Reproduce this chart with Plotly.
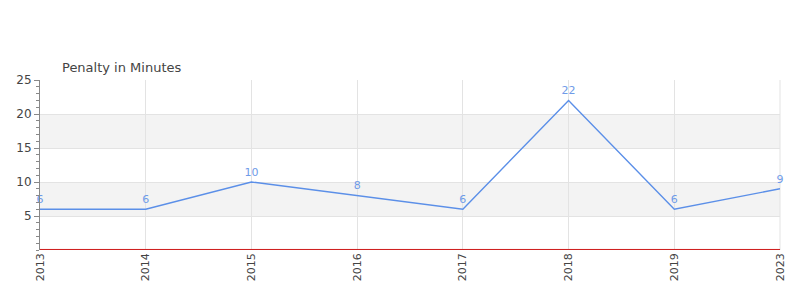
import plotly.graph_objects as go

years = ["2013", "2014", "2015", "2016", "2017", "2018", "2019", "2023"]
penalty = [6, 6, 10, 8, 6, 22, 6, 9]
y_ticks = [5, 10, 15, 20, 25]
bands = [(5, 10), (15, 20)]

fig = go.Figure()
fig.add_trace(go.Scatter(
    x=years, y=penalty, mode="lines+markers+text",
    text=[str(v) for v in penalty], textposition="top center",
    textfont=dict(family="DejaVu Sans", size=11, color="#6f9be8"),
    line=dict(color="#5b8fe8", width=1.4),
    marker=dict(size=4, color="rgba(0,0,0,0)"),
    cliponaxis=False, hoverinfo="x+y",
))

for lo, hi in bands:
    fig.add_shape(type="rect", xref="paper", yref="y", x0=0, x1=1, y0=lo, y1=hi,
                  fillcolor="#f3f3f3", line_width=0, layer="below")

fig.add_shape(type="line", xref="paper", yref="y", x0=0, x1=1, y0=0, y1=0,
              line=dict(color="#555555", width=2), layer="above")
fig.add_shape(type="line", xref="paper", yref="y", x0=0, x1=1, y0=0.08, y1=0.08,
              line=dict(color="#d62020", width=1), layer="above")

fig.update_layout(
    width=800, height=300,
    margin=dict(l=40, r=20, t=80, b=50),
    paper_bgcolor="white", plot_bgcolor="white",
    font=dict(family="DejaVu Sans", size=11, color="#444444"),
    showlegend=False,
    annotations=[dict(text="Penalty in Minutes", xref="paper", yref="paper",
                      x=0.027, y=1.0, yshift=3, xanchor="left", yanchor="bottom",
                      showarrow=False, font=dict(size=13, color="#444444"))],
)
fig.update_xaxes(
    type="category", range=[0, len(years) - 1],
    showgrid=True, gridcolor="#e3e3e3", gridwidth=1,
    tickangle=-90, ticks="", tickfont=dict(size=11, color="#444444"),
    showline=False, zeroline=False, fixedrange=True,
)
fig.update_yaxes(
    range=[0, 25], tickvals=y_ticks,
    showgrid=True, gridcolor="#e3e3e3", gridwidth=1,
    ticks="outside", ticklen=5, tickcolor="#888888",
    minor=dict(ticks="outside", dtick=1, ticklen=3, tickcolor="#888888", showgrid=False),
    showline=True, linecolor="#888888", linewidth=1,
    zeroline=False, tickfont=dict(size=12, color="#444444"), fixedrange=True,
)
fig.add_shape(type="line", xref="paper", yref="paper", x0=1, x1=1, y0=0, y1=1,
              line=dict(color="#e3e3e3", width=1), layer="below")

fig.write_html("out.html")
